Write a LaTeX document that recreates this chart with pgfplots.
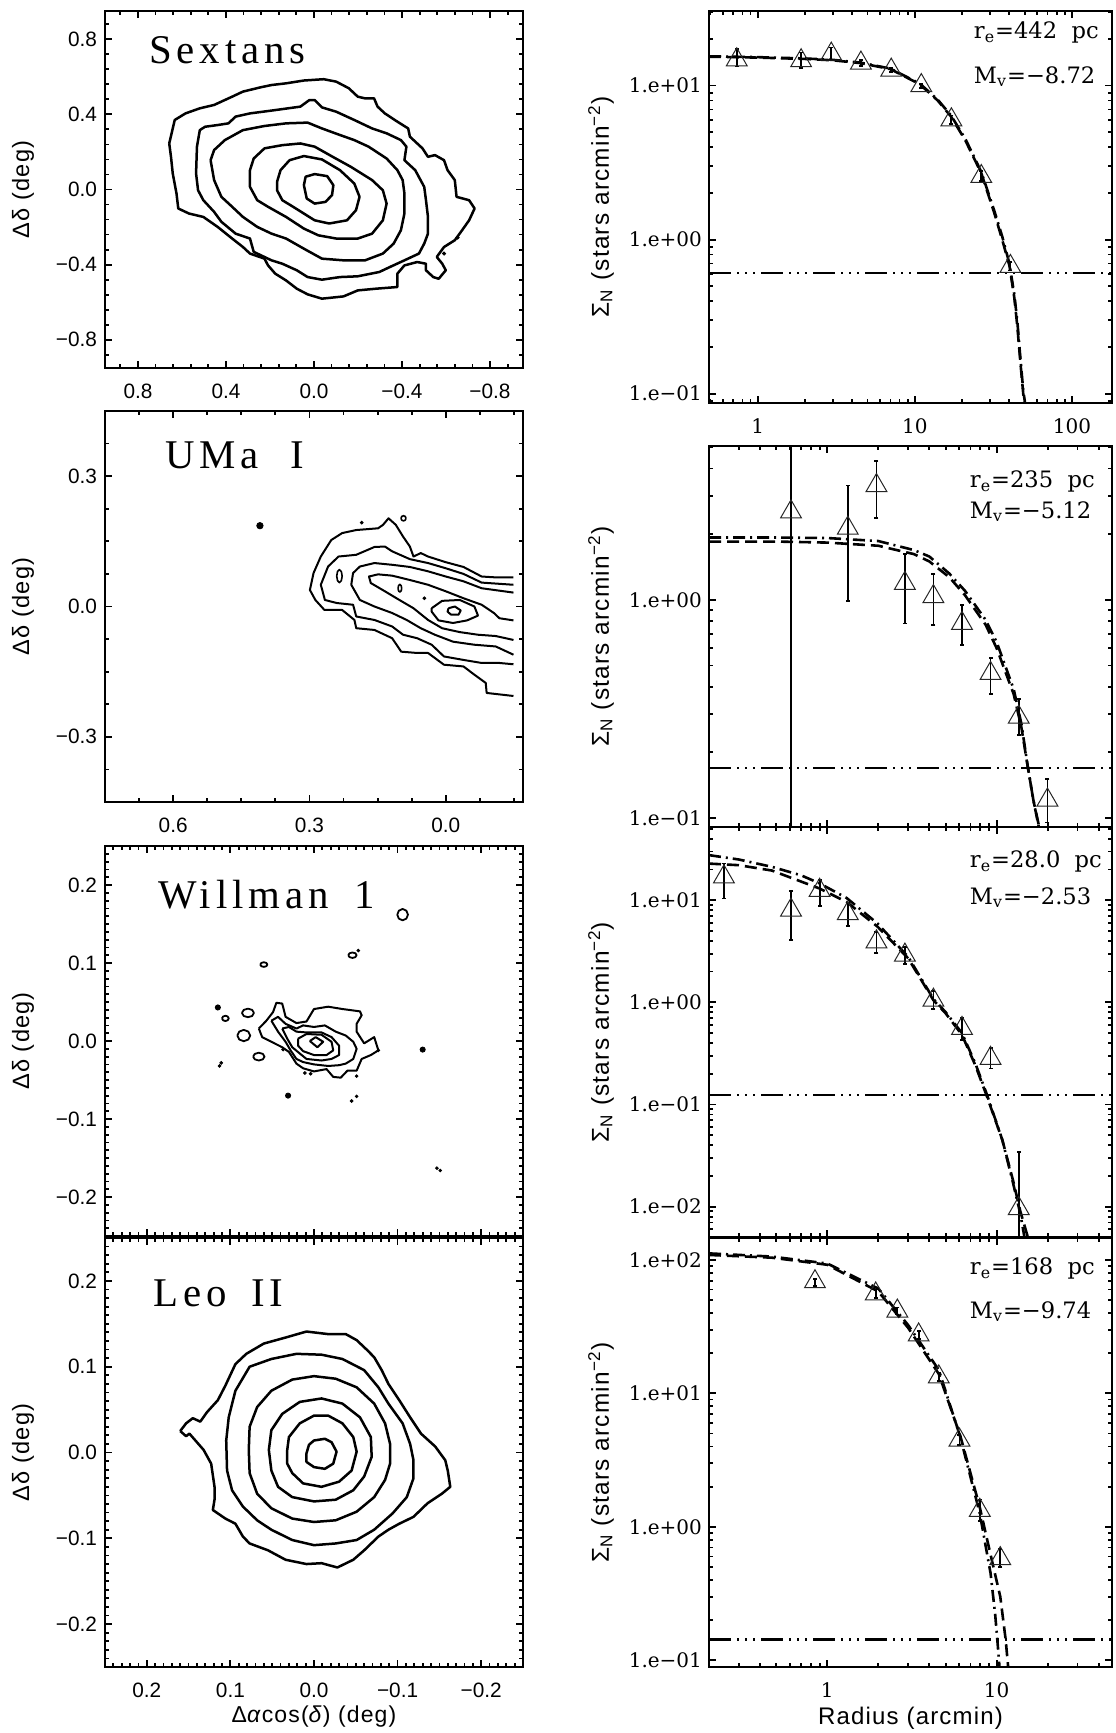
\documentclass[border=0pt]{standalone}
\usepackage{fontspec}
\setmainfont{Liberation Sans}
\newfontfamily\labfont{Liberation Sans}[LetterSpace=5.0]
\newfontfamily\numfont{DejaVu Serif}
\newfontfamily\namefont{Liberation Serif}[LetterSpace=12.0]
\usepackage{pgfplots}
\pgfplotsset{compat=1.18}
\pgfplotsset{
  panel/.style={scale only axis, anchor=north west, axis line style={line width=1.3pt}, every tick/.style={black, line width=0.9pt}, major tick length=3.5pt, minor tick length=1.8pt, tick align=inside, xtick pos=both, ytick pos=both},
  lpanel/.style={panel, width=209pt, x dir=reverse, tick label style={font=\fontsize{10.4}{12}\selectfont}, xticklabel style={yshift=-4.5pt}, yticklabel style={xshift=-0.5pt}, ylabel={Δδ (deg)}, ylabel style={font=\labfont\fontsize{11.8}{13}\selectfont, at={(axis description cs:-0.196,0.5)}, anchor=center}},
  rpanel/.style={panel, width=201.5pt, xmin=0.2, xmax=48, tick label style={font=\numfont\fontsize{10}{12}\selectfont}, xticklabel style={yshift=-4.5pt}, ylabel={Σ\textsubscript{N} (stars arcmin\textsuperscript{−2})}, ylabel style={font=\labfont\fontsize{12.2}{14}\selectfont, at={(axis description cs:-0.268,0.5)}, anchor=center}, minor xtick={0.2,0.3,0.4,0.5,0.6,0.7,0.8,0.9,2,3,4,5,6,7,8,9,20,30,40}},
  cont/.style={black, line width=1.25pt, line join=round, no markers},
  cdot/.style={only marks, mark=*, mark size=1.2pt, black},
  bg/.style={black, line width=1.1pt, dash pattern=on 11pt off 3pt on 1pt off 3pt on 1pt off 3pt on 1pt off 3pt},
  mdash/.style={black, line width=1.3pt, dash pattern=on 6pt off 3pt, no markers},
  mdot/.style={black, line width=1.3pt, dash pattern=on 6pt off 2.5pt on 1pt off 2.5pt, no markers},
  ebar/.style={black, line width=0.9pt, mark=-, mark size=1pt, unbounded coords=jump, mark options={solid}},
  tri/.style={only marks, mark=triangle, mark size=6pt, mark options={black!85, line width=0.5pt}},
}
\tikzset{
  namelab/.style={anchor=west, font=\namefont\fontsize{20.4}{24}\selectfont},
  annot/.style={anchor=west, font=\numfont\fontsize{11.3}{14}\selectfont},
}
\begin{document}
\begin{tikzpicture}
\useasboundingbox (0,0) rectangle (557.5pt,-866.5pt);

% ---------------- Left 1: Sextans
\begin{axis}[lpanel, at={(52.5pt,-5.5pt)}, height=178.5pt,
  xmin=-0.95, xmax=0.95, ymin=-0.95, ymax=0.95,
  xtick={-0.8,-0.4,0,0.4,0.8}, xticklabels={−0.8,−0.4,0.0,0.4,0.8},
  ytick={-0.8,-0.4,0,0.4,0.8}, yticklabels={−0.8,−0.4,0.0,0.4,0.8},
  minor xtick={-0.88,-0.8,...,0.9}, minor ytick={-0.88,-0.8,...,0.9}]
\addplot[cont] coordinates {(0.658,0.245)(0.633,0.370)(0.584,0.405)(0.519,0.432)(0.454,0.450)(0.372,0.494)(0.323,0.521)(0.242,0.544)(0.193,0.556)(0.127,0.565)(0.046,0.580)(-0.044,0.587)(-0.101,0.574)(-0.158,0.539)(-0.199,0.494)(-0.232,0.485)(-0.273,0.485)(-0.289,0.441)(-0.322,0.405)(-0.379,0.361)(-0.428,0.325)(-0.436,0.281)(-0.493,0.219)(-0.518,0.174)(-0.550,0.183)(-0.591,0.156)(-0.607,0.103)(-0.640,0.050)(-0.648,-0.039)(-0.705,-0.057)(-0.730,-0.101)(-0.705,-0.164)(-0.673,-0.217)(-0.640,-0.270)(-0.591,-0.306)(-0.558,-0.359)(-0.583,-0.395)(-0.599,-0.430)(-0.567,-0.475)(-0.542,-0.466)(-0.509,-0.430)(-0.509,-0.395)(-0.469,-0.386)(-0.411,-0.404)(-0.379,-0.448)(-0.379,-0.519)(-0.281,-0.528)(-0.199,-0.537)(-0.134,-0.569)(-0.036,-0.581)(0.029,-0.558)(0.078,-0.528)(0.127,-0.484)(0.176,-0.448)(0.209,-0.404)(0.225,-0.368)(0.291,-0.341)(0.323,-0.306)(0.372,-0.261)(0.438,-0.199)(0.503,-0.146)(0.568,-0.128)(0.617,-0.101)(0.625,-0.021)(0.642,0.085)(0.650,0.174)(0.658,0.245)};
\addplot[cont] coordinates {(0.536,0.085)(0.532,0.228)(0.519,0.316)(0.495,0.334)(0.438,0.343)(0.389,0.352)(0.356,0.388)(0.291,0.405)(0.193,0.420)(0.062,0.441)(0.021,0.476)(-0.003,0.476)(-0.036,0.437)(-0.101,0.414)(-0.183,0.370)(-0.264,0.325)(-0.330,0.299)(-0.395,0.263)(-0.420,0.228)(-0.411,0.156)(-0.460,0.103)(-0.501,0.014)(-0.509,-0.057)(-0.518,-0.146)(-0.518,-0.235)(-0.501,-0.288)(-0.477,-0.341)(-0.411,-0.377)(-0.346,-0.412)(-0.297,-0.439)(-0.199,-0.462)(-0.118,-0.466)(-0.036,-0.480)(0.029,-0.466)(0.078,-0.430)(0.144,-0.395)(0.193,-0.377)(0.274,-0.332)(0.291,-0.261)(0.356,-0.235)(0.421,-0.172)(0.454,-0.119)(0.503,-0.057)(0.527,-0.004)(0.536,0.085)};
\addplot[cont] coordinates {(0.470,0.156)(0.454,0.210)(0.405,0.263)(0.323,0.316)(0.225,0.338)(0.127,0.352)(0.029,0.356)(-0.036,0.325)(-0.118,0.290)(-0.183,0.263)(-0.248,0.228)(-0.330,0.165)(-0.379,0.103)(-0.403,0.050)(-0.411,-0.021)(-0.411,-0.128)(-0.395,-0.217)(-0.362,-0.288)(-0.313,-0.341)(-0.232,-0.377)(-0.134,-0.377)(-0.036,-0.368)(0.046,-0.315)(0.127,-0.261)(0.193,-0.235)(0.258,-0.199)(0.323,-0.146)(0.372,-0.092)(0.421,-0.039)(0.454,0.050)(0.470,0.156)};
\addplot[cont] coordinates {(0.291,0.103)(0.274,0.165)(0.225,0.219)(0.144,0.236)(0.062,0.245)(-0.003,0.228)(-0.085,0.174)(-0.167,0.121)(-0.264,0.050)(-0.313,-0.004)(-0.330,-0.075)(-0.313,-0.164)(-0.264,-0.235)(-0.199,-0.261)(-0.101,-0.261)(-0.020,-0.244)(0.046,-0.208)(0.127,-0.146)(0.209,-0.092)(0.258,-0.057)(0.291,0.014)(0.291,0.103)};
\addplot[cont] coordinates {(0.168,0.041)(0.152,0.103)(0.111,0.156)(0.046,0.178)(-0.036,0.160)(-0.118,0.103)(-0.183,0.032)(-0.207,-0.039)(-0.191,-0.110)(-0.150,-0.164)(-0.069,-0.181)(-0.003,-0.164)(0.046,-0.128)(0.095,-0.092)(0.144,-0.057)(0.168,-0.004)(0.168,0.041)};
\addplot[cont] coordinates {(0.046,0.023)(0.038,0.068)(-0.003,0.082)(-0.060,0.071)(-0.088,0.023)(-0.082,-0.030)(-0.052,-0.066)(-0.003,-0.075)(0.033,-0.048)(0.046,0.023)};
\addplot[cdot, mark size=0.8pt] coordinates {(-0.591,-0.341)(-0.653,-0.256)};
\node[namelab] at (axis description cs:0.089,0.891) {Sextans};
\end{axis}

% ---------------- Left 2: UMa I
\begin{axis}[lpanel, at={(52.5pt,-205.5pt)}, height=195.5pt,
  xmin=-0.17, xmax=0.75, ymin=-0.45, ymax=0.45,
  xtick={0,0.3,0.6}, xticklabels={0.0,0.3,0.6},
  ytick={-0.3,0,0.3}, yticklabels={−0.3,0.0,0.3},
  minor xtick={-0.15,-0.075,...,0.76}, minor ytick={-0.45,-0.375,...,0.46}]
\addplot[cont, line width=1pt] coordinates {(-0.149,0.067)(-0.110,0.067)(-0.079,0.069)(-0.039,0.091)(0.000,0.102)(0.039,0.115)(0.055,0.123)(0.071,0.115)(0.079,0.138)(0.094,0.161)(0.110,0.188)(0.126,0.203)(0.138,0.188)(0.149,0.180)(0.197,0.176)(0.228,0.169)(0.252,0.153)(0.275,0.115)(0.291,0.077)(0.299,0.038)(0.287,0.015)(0.267,-0.008)(0.228,-0.008)(0.201,-0.031)(0.197,-0.050)(0.157,-0.054)(0.118,-0.073)(0.098,-0.104)(0.063,-0.107)(0.039,-0.107)(0.004,-0.134)(-0.039,-0.138)(-0.063,-0.157)(-0.088,-0.176)(-0.090,-0.199)(-0.149,-0.206)};
\addplot[cont, line width=1pt] coordinates {(-0.149,0.050)(-0.079,0.055)(-0.039,0.075)(0.000,0.088)(0.039,0.100)(0.079,0.109)(0.118,0.127)(0.134,0.138)(0.157,0.137)(0.197,0.119)(0.236,0.115)(0.259,0.092)(0.275,0.050)(0.266,0.015)(0.240,0.008)(0.204,0.004)(0.197,-0.023)(0.157,-0.031)(0.118,-0.046)(0.094,-0.065)(0.063,-0.073)(0.031,-0.088)(0.004,-0.115)(-0.039,-0.123)(-0.079,-0.130)(-0.118,-0.130)(-0.149,-0.133)};
\addplot[cont, line width=1pt] coordinates {(-0.149,0.032)(-0.079,0.042)(-0.039,0.058)(0.000,0.069)(0.039,0.081)(0.079,0.091)(0.118,0.096)(0.157,0.100)(0.189,0.092)(0.204,0.077)(0.208,0.050)(0.189,0.015)(0.157,0.000)(0.118,-0.015)(0.086,-0.031)(0.055,-0.050)(0.024,-0.065)(-0.016,-0.081)(-0.063,-0.088)(-0.110,-0.092)(-0.149,-0.111)};
\addplot[cont, line width=1pt] coordinates {(-0.149,-0.032)(-0.118,-0.027)(-0.106,-0.015)(-0.079,0.004)(-0.039,0.019)(0.000,0.035)(0.039,0.050)(0.079,0.061)(0.118,0.071)(0.149,0.074)(0.169,0.069)(0.165,0.054)(0.134,0.035)(0.102,0.015)(0.071,-0.004)(0.039,-0.031)(0.008,-0.050)(-0.031,-0.059)(-0.071,-0.065)(-0.110,-0.068)(-0.149,-0.077)};
\addplot[cont, line width=1pt] coordinates {(0.031,-0.004)(0.008,0.013)(-0.031,0.015)(-0.063,0.000)(-0.071,-0.021)(-0.047,-0.032)(-0.016,-0.038)(0.016,-0.032)(0.031,-0.012)(0.031,-0.004)};
\addplot[cont, line width=1pt] coordinates {(-0.006,-0.004)(-0.020,0.000)(-0.033,-0.009)(-0.028,-0.019)(-0.012,-0.019)(-0.004,-0.012)(-0.006,-0.004)};
\addplot[cont, line width=0.8pt] coordinates {(0.0875,0.203)(0.0891,0.2072)(0.093,0.209)(0.0969,0.2072)(0.0985,0.203)(0.0969,0.1988)(0.093,0.197)(0.0891,0.1988)(0.0875,0.203)};
\addplot[cont, line width=0.8pt] coordinates {(0.097,0.042)(0.0982,0.0483)(0.101,0.051)(0.1038,0.0483)(0.105,0.042)(0.1038,0.0357)(0.101,0.033)(0.0982,0.0357)(0.097,0.042)};
\addplot[cont, line width=0.8pt] coordinates {(0.228,0.070)(0.2298,0.0805)(0.234,0.085)(0.2382,0.0805)(0.240,0.070)(0.2382,0.0595)(0.234,0.055)(0.2298,0.0595)(0.228,0.070)};
\addplot[cdot, mark size=1.6pt] coordinates {(0.409,0.186)};
\addplot[cdot, mark size=0.7pt] coordinates {(0.047,0.019)(0.185,0.193)};
\node[namelab] at (axis description cs:0.127,0.887) {UMa\hspace*{16pt}I};
\end{axis}

% ---------------- Left 3: Willman 1
\begin{axis}[lpanel, at={(52.5pt,-423pt)}, height=195pt,
  xmin=-0.25, xmax=0.25, ymin=-0.25, ymax=0.25,
  xtick={-0.2,-0.1,0,0.1,0.2}, xticklabels={},
  ytick={-0.2,-0.1,0,0.1,0.2}, yticklabels={−0.2,−0.1,0.0,0.1,0.2},
  minor xtick={-0.25,-0.24,...,0.251}, minor ytick={-0.25,-0.24,...,0.251}]
\addplot[cont, line width=1pt] coordinates {(0.066,0.016)(0.057,0.026)(0.049,0.037)(0.045,0.049)(0.038,0.048)(0.034,0.031)(0.021,0.023)(0.009,0.025)(0.000,0.041)(-0.017,0.044)(-0.034,0.041)(-0.055,0.038)(-0.057,0.033)(-0.051,0.022)(-0.051,0.012)(-0.060,-0.003)(-0.072,0.005)(-0.077,-0.012)(-0.068,-0.018)(-0.057,-0.023)(-0.051,-0.038)(-0.040,-0.038)(-0.032,-0.047)(-0.023,-0.046)(-0.015,-0.036)(0.000,-0.039)(0.013,-0.035)(0.021,-0.029)(0.030,-0.014)(0.038,-0.008)(0.051,-0.001)(0.062,0.005)(0.066,0.016)};
\addplot[cont, line width=1pt] coordinates {(0.051,0.026)(0.043,0.031)(0.034,0.022)(0.021,0.016)(0.013,0.020)(0.000,0.018)(-0.013,0.020)(-0.026,0.012)(-0.038,0.007)(-0.047,-0.001)(-0.051,-0.010)(-0.047,-0.023)(-0.038,-0.029)(-0.030,-0.031)(-0.017,-0.032)(0.000,-0.030)(0.013,-0.027)(0.021,-0.023)(0.028,-0.012)(0.034,-0.001)(0.043,0.012)(0.051,0.026)};
\addplot[cont, line width=1pt] coordinates {(0.038,0.016)(0.030,0.018)(0.021,0.012)(0.009,0.011)(-0.009,0.011)(-0.021,0.005)(-0.030,-0.006)(-0.030,-0.018)(-0.021,-0.023)(-0.009,-0.025)(0.009,-0.023)(0.017,-0.016)(0.026,-0.008)(0.032,0.003)(0.038,0.016)};
\addplot[cont, line width=1pt] coordinates {(0.019,0.003)(0.009,0.009)(-0.009,0.008)(-0.021,-0.001)(-0.023,-0.012)(-0.015,-0.018)(0.000,-0.018)(0.013,-0.013)(0.019,-0.006)(0.019,0.003)};
\addplot[cont, line width=1pt] coordinates {(0.005,0.000)(-0.002,0.005)(-0.011,-0.001)(-0.004,-0.008)(0.005,0.000)};
\addplot[cont, line width=0.9pt] coordinates {(-0.0996,0.162)(-0.1015,0.1671)(-0.106,0.1693)(-0.1105,0.1671)(-0.1124,0.162)(-0.1105,0.1569)(-0.106,0.1547)(-0.1015,0.1569)(-0.0996,0.162)};
\addplot[cont, line width=0.9pt] coordinates {(-0.041,0.110)(-0.0425,0.1125)(-0.046,0.1135)(-0.0495,0.1125)(-0.051,0.110)(-0.0495,0.1075)(-0.046,0.1065)(-0.0425,0.1075)(-0.041,0.110)};
\addplot[cont, line width=0.9pt] coordinates {(0.0643,0.098)(0.063,0.1001)(0.060,0.101)(0.057,0.1001)(0.0557,0.098)(0.057,0.0959)(0.060,0.095)(0.063,0.0959)(0.0643,0.098)};
\addplot[cont, line width=0.9pt] coordinates {(0.0862,0.036)(0.084,0.0399)(0.079,0.0415)(0.074,0.0399)(0.0718,0.036)(0.074,0.0321)(0.079,0.0305)(0.084,0.0321)(0.0862,0.036)};
\addplot[cont, line width=0.9pt] coordinates {(0.0917,0.007)(0.0894,0.0121)(0.084,0.0143)(0.0786,0.0121)(0.0763,0.007)(0.0786,0.0019)(0.084,-0.0003)(0.0894,0.0019)(0.0917,0.007)};
\addplot[cont, line width=0.9pt] coordinates {(0.0728,-0.020)(0.0708,-0.0165)(0.066,-0.015)(0.0612,-0.0165)(0.0592,-0.020)(0.0612,-0.0235)(0.066,-0.025)(0.0708,-0.0235)(0.0728,-0.020)};
\addplot[cont, line width=0.9pt] coordinates {(0.110,0.029)(0.1088,0.0314)(0.106,0.0324)(0.1032,0.0314)(0.102,0.029)(0.1032,0.0266)(0.106,0.0256)(0.1088,0.0266)(0.110,0.029)};
\addplot[cdot, mark size=1.3pt] coordinates {(0.115,0.043)(-0.130,-0.011)(0.031,-0.070)};
\addplot[cdot, mark size=0.7pt] coordinates {(0.113,-0.032)(0.111,-0.028)(-0.045,-0.077)(-0.051,-0.071)(-0.151,-0.166)(-0.147,-0.163)(-0.053,0.116)(0.011,-0.041)(-0.051,-0.045)(0.037,-0.011)(-0.077,-0.012)(0.004,-0.042)};
\node[namelab] at (axis description cs:0.11,0.874) {Willman\hspace*{13pt}1};
\end{axis}

% ---------------- Left 4: Leo II
\begin{axis}[lpanel, at={(52.5pt,-619pt)}, height=214.5pt,
  xmin=-0.25, xmax=0.25, ymin=-0.25, ymax=0.25,
  xtick={-0.2,-0.1,0,0.1,0.2}, xticklabels={−0.2,−0.1,0.0,0.1,0.2},
  ytick={-0.2,-0.1,0,0.1,0.2}, yticklabels={−0.2,−0.1,0.0,0.1,0.2},
  minor xtick={-0.25,-0.24,...,0.251}, minor ytick={-0.25,-0.24,...,0.251},
  xlabel={Δ\textit{α}cos(\textit{δ}) (deg)}, xlabel style={font=\labfont\fontsize{11.5}{13}\selectfont, at={(axis description cs:0.5,-0.1166)}, anchor=center}]
\addplot[cont] coordinates {(0.160,0.025)(0.153,0.034)(0.145,0.040)(0.136,0.036)(0.128,0.047)(0.115,0.061)(0.106,0.078)(0.094,0.103)(0.081,0.115)(0.060,0.127)(0.034,0.134)(0.009,0.141)(-0.017,0.138)(-0.038,0.138)(-0.051,0.131)(-0.064,0.119)(-0.072,0.111)(-0.081,0.096)(-0.089,0.080)(-0.102,0.061)(-0.115,0.041)(-0.128,0.022)(-0.145,0.007)(-0.157,-0.009)(-0.160,-0.021)(-0.163,-0.040)(-0.153,-0.048)(-0.136,-0.059)(-0.119,-0.075)(-0.102,-0.083)(-0.089,-0.090)(-0.077,-0.098)(-0.060,-0.114)(-0.047,-0.125)(-0.028,-0.134)(-0.009,-0.129)(0.009,-0.130)(0.034,-0.125)(0.055,-0.114)(0.077,-0.106)(0.085,-0.098)(0.094,-0.083)(0.106,-0.077)(0.121,-0.067)(0.119,-0.055)(0.119,-0.040)(0.123,-0.013)(0.132,0.003)(0.149,0.022)(0.153,0.019)(0.160,0.025)};
\addplot[cont] coordinates {(0.105,0.014)(0.102,0.041)(0.094,0.072)(0.077,0.100)(0.051,0.109)(0.021,0.115)(-0.009,0.114)(-0.034,0.109)(-0.060,0.096)(-0.077,0.076)(-0.089,0.057)(-0.106,0.034)(-0.115,0.010)(-0.119,-0.009)(-0.119,-0.030)(-0.111,-0.052)(-0.094,-0.071)(-0.072,-0.090)(-0.051,-0.102)(-0.026,-0.106)(0.000,-0.108)(0.026,-0.102)(0.051,-0.090)(0.068,-0.079)(0.085,-0.063)(0.098,-0.044)(0.104,-0.021)(0.105,0.014)};
\addplot[cont] coordinates {(0.078,0.003)(0.077,0.030)(0.068,0.053)(0.051,0.072)(0.026,0.085)(0.000,0.089)(-0.026,0.086)(-0.051,0.076)(-0.072,0.057)(-0.085,0.034)(-0.091,0.010)(-0.091,-0.013)(-0.085,-0.032)(-0.072,-0.052)(-0.051,-0.069)(-0.026,-0.079)(0.000,-0.081)(0.026,-0.077)(0.051,-0.065)(0.068,-0.048)(0.077,-0.024)(0.078,0.003)};
\addplot[cont] coordinates {(0.054,0.003)(0.051,0.026)(0.038,0.045)(0.017,0.059)(-0.009,0.063)(-0.034,0.057)(-0.055,0.041)(-0.068,0.018)(-0.069,-0.005)(-0.060,-0.028)(-0.047,-0.044)(-0.026,-0.055)(0.000,-0.057)(0.026,-0.052)(0.043,-0.040)(0.051,-0.021)(0.054,0.003)};
\addplot[cont] coordinates {(0.032,0.003)(0.030,0.018)(0.017,0.034)(0.000,0.043)(-0.017,0.043)(-0.034,0.034)(-0.047,0.018)(-0.051,0.001)(-0.045,-0.021)(-0.030,-0.034)(-0.009,-0.040)(0.013,-0.036)(0.026,-0.024)(0.032,-0.013)(0.032,0.003)};
\addplot[cont] coordinates {(0.009,-0.001)(0.006,0.009)(0.000,0.014)(-0.013,0.016)(-0.021,0.012)(-0.027,0.001)(-0.023,-0.013)(-0.013,-0.019)(0.000,-0.017)(0.009,-0.011)(0.009,-0.001)};
\node[namelab] at (axis description cs:0.10,0.872) {Leo\hspace*{12pt}II};
\end{axis}

% ---------------- Right 1: Sextans profile
\begin{loglogaxis}[rpanel, at={(354.5pt,-5.5pt)}, height=196pt,
  xmin=0.49, xmax=180, ymin=0.087, ymax=30.5,
  xtick={1,10,100}, xticklabels={1,10,100},
  minor xtick={0.5,0.6,0.7,0.8,0.9,2,3,4,5,6,7,8,9,20,30,40,50,60,70,80,90},
  ytick={0.1,1,10}, yticklabels={1.e−01,1.e+00,1.e+01},
  minor ytick={0.09,0.2,0.3,0.4,0.5,0.6,0.7,0.8,0.9,2,3,4,5,6,7,8,9,20,30}]
\addplot[bg] coordinates {(0.49,0.61)(180,0.61)};
\addplot[mdash] coordinates {(0.49,15.4)(1,15.2)(2,14.9)(3,14.6)(4.5,14.0)(7,12.8)(10,10.6)(11,10.0)(14,8.0)(17,6.3)(21,4.4)(26.5,2.7)(32,1.5)(36,1.0)(40,0.68)(43,0.42)(45,0.27)(47,0.16)(49,0.1)(50,0.085)};
\addplot[mdot] coordinates {(0.49,15.5)(1,15.3)(2,15.0)(3,14.7)(4.5,14.1)(7,12.9)(10,10.7)(11,10.1)(14,8.1)(17,6.4)(21,4.5)(26.5,2.75)(32,1.55)(36,1.05)(40,0.7)(43,0.44)(45,0.29)(47,0.17)(49,0.105)(50.5,0.085)};
\addplot[ebar] coordinates {(0.736,13.3)(0.736,17.2)(0.736,nan)(1.89,13.0)(1.89,16.4)(1.89,nan)(2.94,14.7)(2.94,17.7)(2.94,nan)(4.54,13.4)(4.54,14.7)(4.54,nan)(7.08,12.2)(7.08,13.0)(7.08,nan)(11.0,9.6)(11.0,10.3)(11.0,nan)(17.1,5.6)(17.1,6.4)(17.1,nan)(26.5,2.4)(26.5,2.8)(26.5,nan)(40.6,0.63)(40.6,0.72)};
\addplot[tri] coordinates {(0.736,14.7)(1.89,14.5)(2.94,16.0)(4.54,14.0)(7.08,12.6)(11.0,10.0)(17.1,6.0)(26.5,2.57)(40.6,0.67)};
\node[annot] at (axis description cs:0.64,0.944) {r\textsubscript{e}=442~~pc};
\node[annot] at (axis description cs:0.64,0.832) {M\textsubscript{v}=−8.72};
\end{loglogaxis}

% ---------------- Right 2: UMa I profile
\begin{loglogaxis}[rpanel, at={(354.5pt,-223pt)}, height=190.5pt,
  ymin=0.091, ymax=5.07,
  xtick={1,10}, xticklabels={},
  ytick={0.1,1}, yticklabels={1.e−01,1.e+00},
  minor ytick={0.2,0.3,0.4,0.5,0.6,0.7,0.8,0.9,2,3,4,5}]
\addplot[bg] coordinates {(0.2,0.17)(48,0.17)};
\addplot[mdot] coordinates {(0.2,1.93)(0.5,1.93)(1,1.92)(2,1.86)(3.25,1.69)(4,1.58)(5.25,1.32)(6.5,1.1)(8.6,0.81)(10,0.64)(12.6,0.39)(14,0.27)(15.3,0.17)(16.5,0.12)(17.9,0.088)};
\addplot[mdash] coordinates {(0.2,1.85)(0.5,1.85)(1,1.83)(2,1.77)(3.25,1.62)(4,1.5)(5.25,1.27)(6.5,1.05)(8.6,0.77)(10,0.6)(12.6,0.37)(14,0.26)(15.3,0.17)(16.5,0.12)(18,0.088)};
\addplot[ebar] coordinates {(0.61,0.01)(0.61,50)(0.61,nan)(1.32,0.99)(1.32,3.34)(1.32,nan)(1.95,2.37)(1.95,4.33)(1.95,nan)(2.87,0.78)(2.87,1.62)(2.87,nan)(4.23,0.77)(4.23,1.31)(4.23,nan)(6.24,0.62)(6.24,0.95)(6.24,nan)(9.2,0.37)(9.2,0.54)(9.2,nan)(13.5,0.24)(13.5,0.35)(13.5,nan)(19.95,0.0955)(19.95,0.151)};
\addplot[tri] coordinates {(0.61,2.53)(1.32,2.13)(1.95,3.34)(2.87,1.19)(4.23,1.035)(6.24,0.78)(9.2,0.46)(13.5,0.29)(19.95,0.121)};
\node[annot] at (axis description cs:0.63,0.906) {r\textsubscript{e}=235~~pc};
\node[annot] at (axis description cs:0.63,0.827) {M\textsubscript{v}=−5.12};
\end{loglogaxis}

% ---------------- Right 3: Willman 1 profile
\begin{loglogaxis}[rpanel, at={(354.5pt,-413.5pt)}, height=205pt,
  ymin=0.00505, ymax=52,
  xtick={1,10}, xticklabels={},
  ytick={0.01,0.1,1,10}, yticklabels={1.e−02,1.e−01,1.e+00,1.e+01},
  minor ytick={0.006,0.007,0.008,0.009,0.02,0.03,0.04,0.05,0.06,0.07,0.08,0.09,0.2,0.3,0.4,0.5,0.6,0.7,0.8,0.9,2,3,4,5,6,7,8,9,20,30,40,50}]
\addplot[bg] coordinates {(0.2,0.125)(48,0.125)};
\addplot[mdot] coordinates {(0.2,27.6)(0.3,25)(0.47,21.2)(0.7,17.5)(0.9,14.6)(1.3,10.5)(1.98,5.9)(3.0,2.79)(4.23,1.08)(5.0,0.8)(6.24,0.5)(7.5,0.25)(8.76,0.125)(10.8,0.045)(12.5,0.017)(13.8,0.0085)(14.6,0.005)};
\addplot[mdash] coordinates {(0.2,22.8)(0.3,22)(0.47,19.5)(0.9,13.0)(1.3,9.6)(1.98,5.5)(3.0,2.7)(4.23,1.05)(5.0,0.78)(6.24,0.48)(7.5,0.24)(8.76,0.12)(10.8,0.045)(12.5,0.018)(13.8,0.009)(15.3,0.005)};
\addplot[ebar] coordinates {(0.245,10.4)(0.245,22.8)(0.245,nan)(0.61,4.07)(0.61,12.2)(0.61,nan)(0.9,8.7)(0.9,15.7)(0.9,nan)(1.32,5.57)(1.32,9.3)(1.32,nan)(1.95,3.05)(1.95,4.9)(1.95,nan)(2.87,2.37)(2.87,3.49)(2.87,nan)(4.23,0.86)(4.23,1.29)(4.23,nan)(6.24,0.43)(6.24,0.70)(6.24,nan)(9.2,0.225)(9.2,0.36)(9.2,nan)(13.5,0.004)(13.5,0.0344)};
\addplot[tri] coordinates {(0.245,16.9)(0.61,8.0)(0.9,12.5)(1.32,7.4)(1.95,3.91)(2.87,2.9)(4.23,1.05)(6.24,0.556)(9.2,0.283)(13.5,0.0096)};
\node[annot] at (axis description cs:0.63,0.915) {r\textsubscript{e}=28.0~~pc};
\node[annot] at (axis description cs:0.63,0.827) {M\textsubscript{v}=−2.53};
\end{loglogaxis}

% ---------------- Right 4: Leo II profile
\begin{loglogaxis}[rpanel, at={(354.5pt,-619pt)}, height=214.5pt,
  ymin=0.089, ymax=146,
  xtick={1,10}, xticklabels={1,10},
  ytick={0.1,1,10,100}, yticklabels={1.e−01,1.e+00,1.e+01,1.e+02},
  minor ytick={0.2,0.3,0.4,0.5,0.6,0.7,0.8,0.9,2,3,4,5,6,7,8,9,20,30,40,50,60,70,80,90},
  xlabel={Radius (arcmin)}, xlabel style={font=\labfont\fontsize{12}{14}\selectfont, at={(axis description cs:0.5,-0.119)}, anchor=center}]
\addplot[bg] coordinates {(0.2,0.143)(48,0.143)};
\addplot[mdot] coordinates {(0.2,112)(0.47,106)(1.0,94)(2.0,61)(3.0,32.5)(4.55,15)(6.1,4.7)(7.95,1.26)(9.2,0.45)(9.8,0.22)(10.1,0.14)(10.4,0.088)};
\addplot[mdash] coordinates {(0.2,109)(0.47,104)(1.0,92)(2.0,58)(3.0,31)(4.55,14)(6.1,4.8)(7.95,1.4)(9.2,0.62)(10.5,0.3)(11.3,0.143)(11.7,0.088)};
\addplot[ebar] coordinates {(0.845,64)(0.845,72)(0.845,nan)(1.93,52)(1.93,60)(1.93,nan)(2.59,39)(2.59,44)(2.59,nan)(3.46,25.5)(3.46,29.5)(3.46,nan)(4.55,12.3)(4.55,14.3)(4.55,nan)(6.03,4.1)(6.03,4.9)(6.03,nan)(7.95,1.1)(7.95,1.6)(7.95,nan)(10.5,0.5)(10.5,0.68)};
\addplot[tri] coordinates {(0.845,68.7)(1.93,55.6)(2.59,41.4)(3.46,27.4)(4.55,13.3)(6.03,4.47)(7.95,1.33)(10.5,0.578)};
\node[annot] at (axis description cs:0.63,0.928) {r\textsubscript{e}=168~~pc};
\node[annot] at (axis description cs:0.63,0.828) {M\textsubscript{v}=−9.74};
\end{loglogaxis}
\end{tikzpicture}
\end{document}
